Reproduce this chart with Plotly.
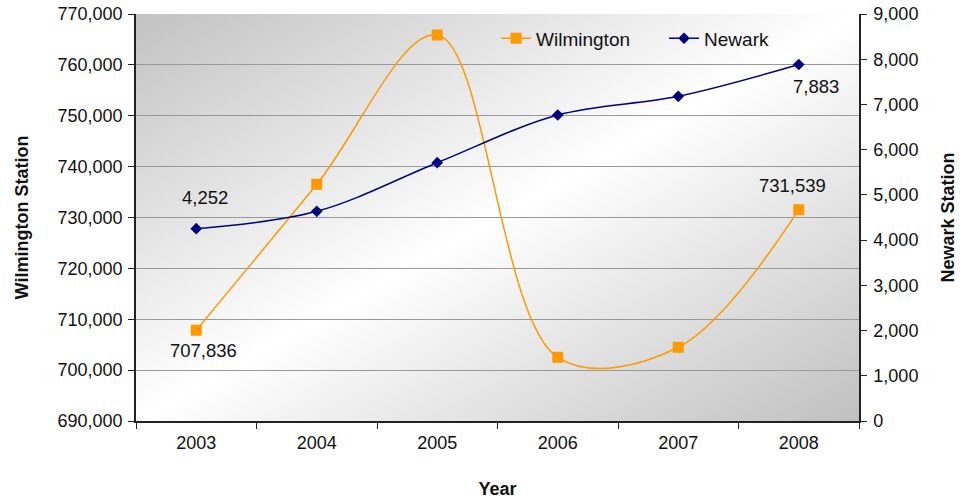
import base64
import plotly.graph_objects as go

# Annual station ridership
years = ["2003", "2004", "2005", "2006", "2007", "2008"]
wilmington = [707836, 736530, 765870, 702520, 704490, 731539]
newark = [4252, 4637, 5712, 6767, 7180, 7883]

ORANGE = "#FF9900"
NAVY = "#000080"
FONT = "Liberation Sans, Arial, sans-serif"

# diagonal grey-white-grey fill for the plotting area
svg = (
    '<svg xmlns="http://www.w3.org/2000/svg" width="100" height="100" '
    'preserveAspectRatio="none" viewBox="0 0 100 100">'
    '<defs><linearGradient id="g" x1="0" y1="0" x2="1" y2="1">'
    '<stop offset="0" stop-color="#c2c2c2"/>'
    '<stop offset="0.5" stop-color="#ffffff"/>'
    '<stop offset="1" stop-color="#c0c0c0"/>'
    '</linearGradient></defs>'
    '<rect x="0" y="0" width="100" height="100" fill="url(#g)"/></svg>'
)
bg_src = "data:image/svg+xml;base64," + base64.b64encode(svg.encode()).decode()

fig = go.Figure()
fig.add_trace(go.Scatter(
    x=years, y=wilmington, name="Wilmington", mode="lines+markers",
    line=dict(color=ORANGE, width=1.5, shape="spline", smoothing=1),
    marker=dict(symbol="square", size=11, color=ORANGE),
    yaxis="y",
))
fig.add_trace(go.Scatter(
    x=years, y=newark, name="Newark", mode="lines+markers",
    line=dict(color=NAVY, width=1.5, shape="spline", smoothing=1),
    marker=dict(symbol="diamond", size=9, color=NAVY),
    yaxis="y2",
))

# value labels on first and last points (x given as category index)
first, last = 0, len(years) - 1
labels = [
    (first, wilmington[first], "y", 7, -20),
    (last, wilmington[last], "y", -6, 24),
    (first, newark[first], "y2", 9, 31),
    (last, newark[last], "y2", 17, -22),
]
for xi, v, yr, dx, dy in labels:
    fig.add_annotation(
        x=xi, y=v, xref="x", yref=yr, text=f"{v:,}", showarrow=False,
        xshift=dx, yshift=dy, font=dict(size=18.5, color="#111111", family=FONT),
    )

fig.add_layout_image(dict(
    source=bg_src, xref="paper", yref="paper", x=0, y=1,
    sizex=1, sizey=1, sizing="stretch", layer="below",
    xanchor="left", yanchor="top",
))

TICKFONT = dict(size=18, family=FONT, color="#111111")
TITLEFONT = dict(size=18, family=FONT, color="#111111")

fig.update_layout(
    width=972, height=500,
    margin=dict(l=136, r=113, t=14, b=79),
    paper_bgcolor="white", plot_bgcolor="rgba(0,0,0,0)",
    font=dict(family=FONT, size=18, color="#111111"),
    showlegend=True,
    legend=dict(
        orientation="h", x=0.498, y=0.94, xanchor="left", yanchor="middle",
        bgcolor="rgba(0,0,0,0)", font=dict(size=19),
        entrywidth=123, entrywidthmode="pixels",
    ),
    xaxis=dict(
        type="category", range=[-0.5, 5.5], tickson="boundaries",
        ticks="outside", ticklen=6, tickcolor="#222222", tickfont=TICKFONT,
        showline=True, linecolor="#222222", linewidth=1.5,
        showgrid=False, automargin=False, ticklabelstandoff=5,
        title=dict(text="<b>Year</b>", standoff=30, font=TITLEFONT),
    ),
    yaxis=dict(
        range=[690000, 770000], dtick=10000, tickformat=",d",
        ticks="outside", ticklen=6, tickcolor="#222222", tickfont=TICKFONT,
        showline=True, linecolor="#222222", linewidth=1.5,
        gridcolor="#999999", gridwidth=1, zeroline=False,
        automargin=False, ticklabelstandoff=2,
        title=dict(text="<b>Wilmington Station</b>", standoff=24, font=TITLEFONT),
    ),
    yaxis2=dict(
        range=[0, 9000], dtick=1000, tickformat=",d",
        overlaying="y", side="right",
        ticks="outside", ticklen=6, tickcolor="#222222", tickfont=TICKFONT,
        showline=True, linecolor="#222222", linewidth=1.5,
        showgrid=False, zeroline=False, automargin=False, ticklabelstandoff=3,
        title=dict(text="<b>Newark Station</b>", standoff=24, font=TITLEFONT),
    ),
)

fig.write_html("out.html")
